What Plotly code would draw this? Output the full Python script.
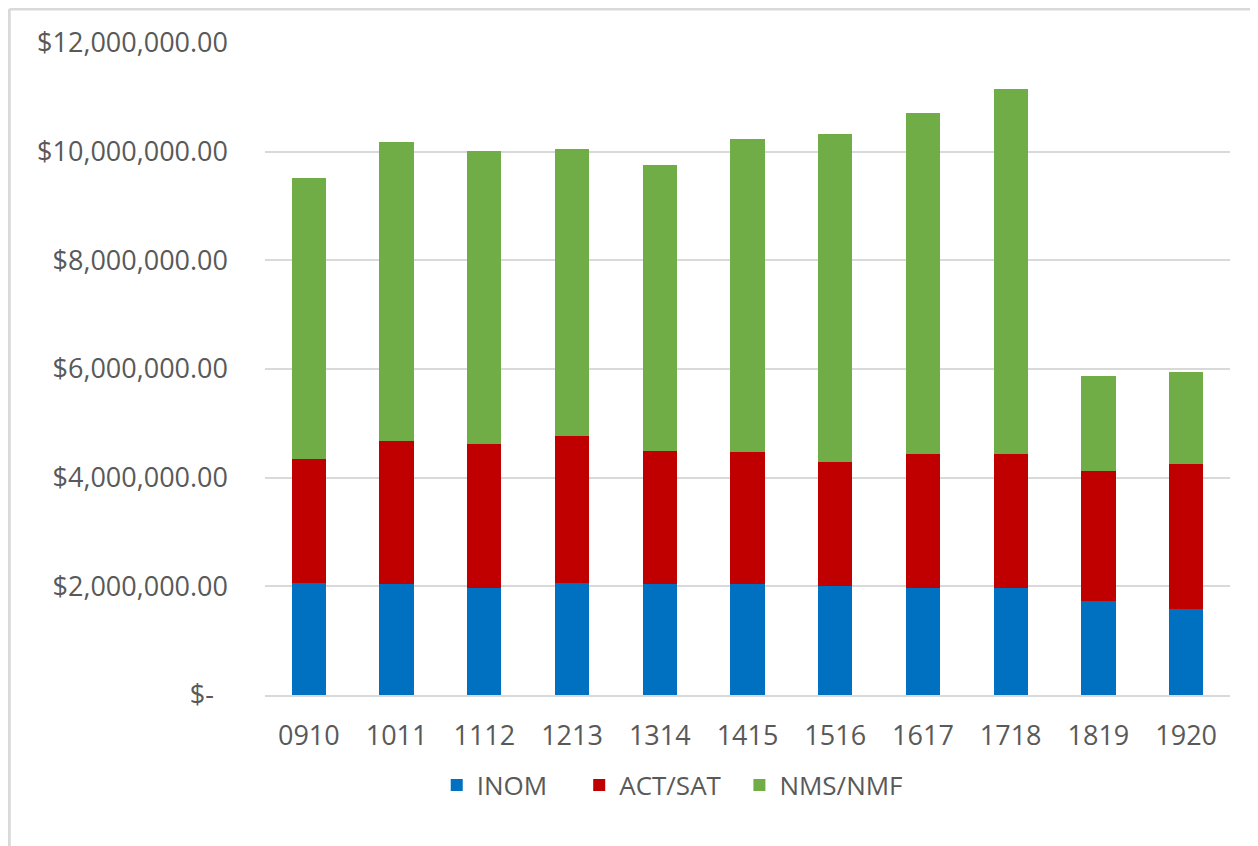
import plotly.graph_objects as go

years = ["0910", "1011", "1112", "1213", "1314", "1415", "1516", "1617", "1718", "1819", "1920"]
inom = [2.07e6, 2.04e6, 1.97e6, 2.07e6, 2.04e6, 2.04e6, 2.01e6, 1.97e6, 1.97e6, 1.73e6, 1.58e6]
act_sat = [2.28e6, 2.64e6, 2.65e6, 2.70e6, 2.46e6, 2.43e6, 2.28e6, 2.47e6, 2.47e6, 2.40e6, 2.68e6]
nms_nmf = [5.16e6, 5.49e6, 5.40e6, 5.28e6, 5.25e6, 5.76e6, 6.04e6, 6.27e6, 6.72e6, 1.75e6, 1.68e6]
series_names = ["INOM", "ACT/SAT", "NMS/NMF"]

y_tickvals = [0, 2e6, 4e6, 6e6, 8e6, 10e6, 12e6]
y_ticktext = ["$-\u00a0\u00a0", "$2,000,000.00", "$4,000,000.00", "$6,000,000.00",
              "$8,000,000.00", "$10,000,000.00", "$12,000,000.00"]

FONT = "'Open Sans', sans-serif"
pad = ["\u00a0" * 4, "\u00a0" * 2, ""]
fig = go.Figure()
for name, p, vals, col in zip(series_names, pad, [inom, act_sat, nms_nmf],
                              ["#0070C0", "#C00000", "#70AD47"]):
    fig.add_trace(go.Bar(x=years, y=vals, name=name + p, marker_color=col,
                         marker_line_width=0))

fig.update_layout(
    barmode="stack",
    bargap=0.61,
    width=1250, height=838,
    margin=dict(l=257, r=28, t=35, b=151),
    plot_bgcolor="white", paper_bgcolor="white",
    font=dict(family=FONT, size=27, color="#595959"),
    legend=dict(orientation="h", x=0.422, xanchor="center", y=-0.138, yanchor="middle",
                font=dict(size=26, color="#595959"), itemwidth=30,
                traceorder="normal"),
    showlegend=True,
)
fig.update_yaxes(range=[0, 12e6], tickvals=y_tickvals, ticktext=y_ticktext,
                 showgrid=True, gridcolor="#D9D9D9", gridwidth=2,
                 zeroline=False, showline=False, ticklabelstandoff=36)
fig.update_xaxes(showline=True, linecolor="#D9D9D9", linewidth=2,
                 ticklabelstandoff=16)
fig.add_shape(type="line", xref="paper", yref="paper",
              x0=-0.265, x1=-0.265, y0=-0.25, y1=1.052,
              line=dict(color="#D9D9D9", width=3))
fig.add_shape(type="line", xref="paper", yref="paper",
              x0=-0.265, x1=1.03, y0=1.052, y1=1.052,
              line=dict(color="#D9D9D9", width=3))
fig.write_html("out.html")
